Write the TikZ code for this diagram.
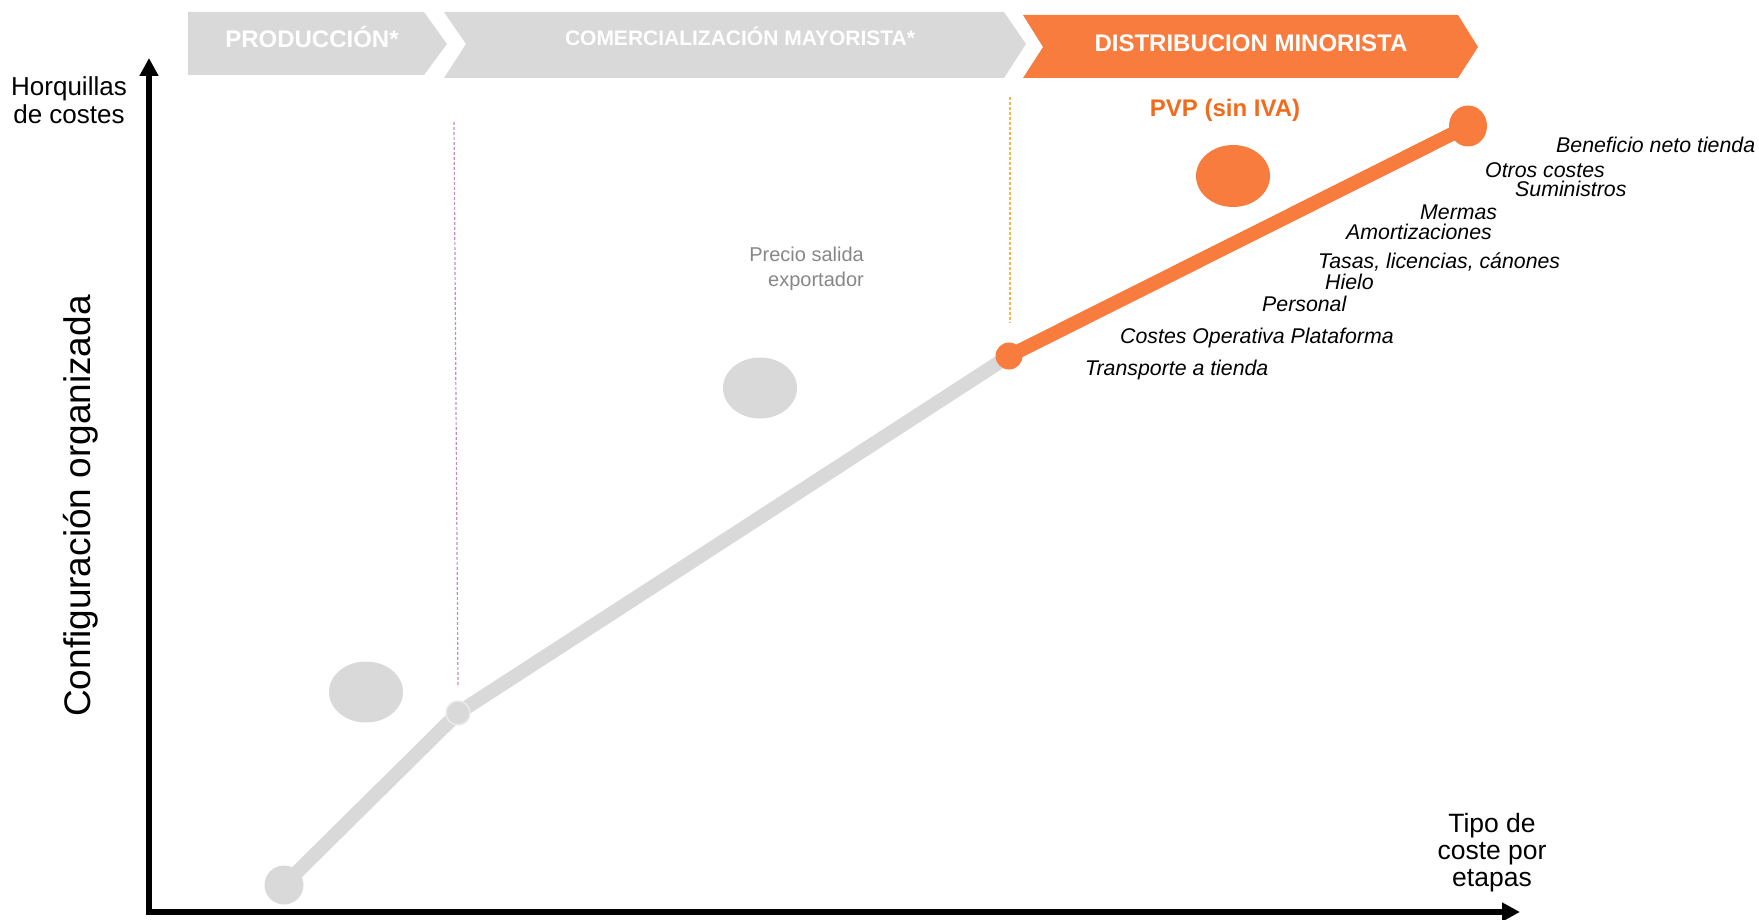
\documentclass[tikz,border=0pt]{standalone}
\usepackage{fontspec}
\setmainfont{Liberation Sans}
\usetikzlibrary{arrows.meta, positioning, shapes.geometric}
\definecolor{mkgrey}{HTML}{D9D9D9}
\definecolor{mkorange}{HTML}{F97C3F}
\definecolor{mkpvp}{HTML}{F26B1D}
\definecolor{mktext}{HTML}{878787}
\definecolor{mkviolet}{HTML}{C48CC4}
\definecolor{mkamber}{HTML}{F4B944}

\begin{document}
\begin{tikzpicture}[x=1pt, y=-1pt, line join=round, inner sep=0pt,
    axis/.style={line width=5.5pt, line join=miter,
      {Triangle[length=18pt,width=18pt]}-{Triangle[length=18pt,width=18pt]}},
    stagetxt/.style={text=white, anchor=base, font=\bfseries\fontsize{23}{26}\selectfont},
    cost/.style={anchor=base west, font=\itshape\fontsize{21.3}{24}\selectfont},
    dot/.style={circle, fill=#1, minimum size=27pt},
    bubble/.style={ellipse, fill=#1, minimum width=74pt, minimum height=61pt},
    guide/.style={line width=1.2pt, dash pattern=on 3pt off 2pt}]
  \useasboundingbox (0,0) rectangle (1759,920);
  % etapas
  \fill[mkgrey] (188,12) -- (424,12) -- (447,44) -- (424,75) -- (188,75) -- cycle;
  \fill[mkgrey] (444,12) -- (1004,12) -- (1026,44) -- (1004,78) -- (444,78) -- (466,44) -- cycle;
  \fill[mkorange] (1023,15) -- (1458,15) -- (1478,47) -- (1458,78) -- (1023,78) -- (1043,47) -- cycle;
  \node[stagetxt, font=\bfseries\fontsize{24}{27}\selectfont] (prod) at (312,48) {PRODUCCIÓN*};
  \node[stagetxt, font=\bfseries\fontsize{21}{24}\selectfont] (mayor) at (740,46) {COMERCIALIZACIÓN MAYORISTA*};
  \node[stagetxt, font=\bfseries\fontsize{24}{27}\selectfont] (minor) at (1251,52) {DISTRIBUCION MINORISTA};
  % ejes
  \coordinate (ytip) at (149,58);
  \coordinate (origin) at (149,912);
  \coordinate (xtip) at (1520,912);
  \draw[axis] (ytip) -- (origin) -- (xtip);
  \node[anchor=north, align=center, font=\fontsize{26}{28}\selectfont] (ylab) at (69,76) {Horquillas\\de costes};
  \node[anchor=north, align=center, font=\fontsize{26.5}{27}\selectfont] (xlab) at (1492,813) {Tipo de\\coste por\\etapas};
  \node[rotate=90, font=\fontsize{37}{40}\selectfont] (conf) at (81,506) {Configuración organizada};
  % guias verticales
  \coordinate (ga) at (454,122);
  \coordinate (gb) at (458,687);
  \coordinate (gc) at (1010,97);
  \coordinate (gd) at (1010,323);
  \draw[guide, mkviolet] (ga) -- (gb);
  \draw[guide, mkamber] (gc) -- (gd);
  % recorrido de costes
  \coordinate (p0) at (284,885);
  \coordinate (p1) at (458,713);
  \coordinate (p2) at (1009,356);
  \coordinate (p3) at (1468,126);
  \draw[mkgrey, line width=14pt] (p0) -- (p1) -- (p2);
  \draw[mkorange, line width=14pt] (p2) -- (p3);
  \node[dot=mkgrey, minimum size=39pt] (d0) at (p0) {};
  \node[dot=mkgrey, minimum size=24pt, draw=white!92!black, line width=1.5pt] (d1) at (p1) {};
  \node[dot=mkorange] (d2) at (p2) {};
  \node[ellipse, fill=mkorange, minimum width=38pt, minimum height=41pt] (d3) at (p3) {};
  \node[bubble=mkgrey] (b0) at (366,692) {};
  \node[bubble=mkgrey] (b1) at (760,388) {};
  \node[bubble=mkorange, minimum height=62pt] (b2) at (1233,176) {};
  % textos
  \node[anchor=north east, align=right, text=mktext, font=\fontsize{20}{25}\selectfont] (psal) at (864,247) {Precio salida\\exportador};
  \node[anchor=base, text=mkpvp, font=\bfseries\fontsize{24}{27}\selectfont] (pvp) at (1225,117) {PVP (sin IVA)};
  \node[cost] (c10) at (1556,153) {Beneficio neto tienda};
  \node[cost] (c9) at (1485,178) {Otros costes};
  \node[cost] (c8) at (1515,197) {Suministros};
  \node[cost] (c7) at (1420,220) {Mermas};
  \node[cost] (c6) at (1346,240) {Amortizaciones};
  \node[cost] (c5) at (1318,269) {Tasas, licencias, cánones};
  \node[cost] (c4) at (1325,289) {Hielo};
  \node[cost] (c3) at (1262,311) {Personal};
  \node[cost] (c2) at (1120,343) {Costes Operativa Plataforma};
  \node[cost] (c1) at (1085,375) {Transporte a tienda};
\end{tikzpicture}
\end{document}
